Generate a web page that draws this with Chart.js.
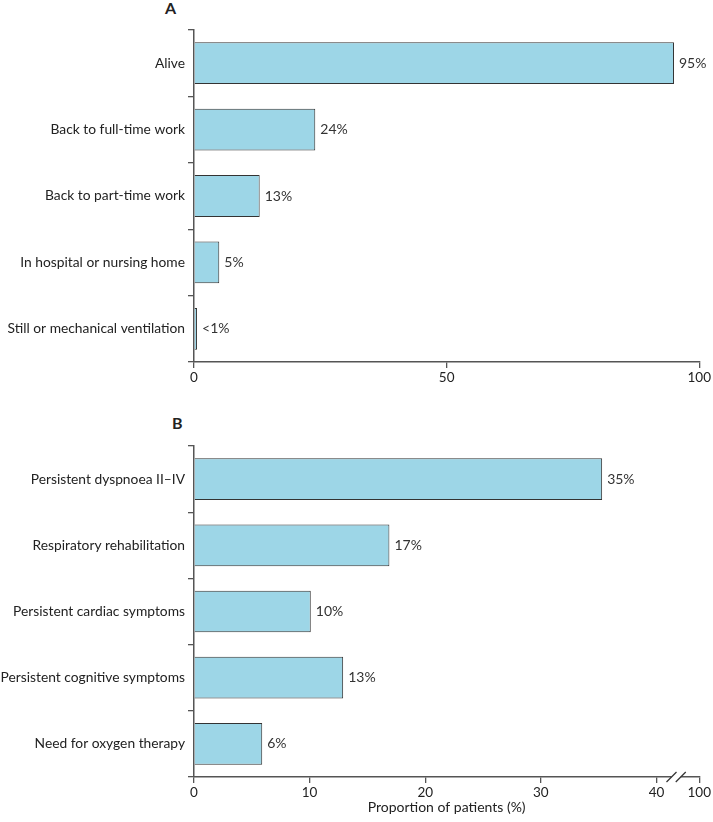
<!DOCTYPE html>
<html>
<head>
<meta charset="utf-8">
<script src="https://cdn.jsdelivr.net/npm/chart.js@4/dist/chart.umd.min.js"></script>
<style>
  body { margin: 0; background: #fff; font-family: Lato, sans-serif; }
  #wrap { position: relative; width: 713px; height: 822px; }
  .box { position: absolute; left: 0; width: 713px; }
  .panel { position: absolute; font: bold 16px Lato, sans-serif; color: #222; line-height: 16px; }
</style>
</head>
<body>
<div id="wrap">
  <div class="panel" style="left:165px; top:0px;">A</div>
  <div class="box" style="top:0; height:395px;"><canvas id="chartA"></canvas></div>
  <div class="panel" style="left:172px; top:415px;">B</div>
  <div class="box" style="top:395px; height:427px;"><canvas id="chartB"></canvas></div>
</div>
<script>
// panel A - outcomes
var catsA = ["Alive", "Back to full-time work", "Back to part-time work", "In hospital or nursing home", "Still or mechanical ventilation"];
var valsA = [95, 24, 13, 5, 0.6];
var textA = ["95%", "24%", "13%", "5%", "<1%"];

// panel B - symptoms
var catsB = ["Persistent dyspnoea II\u2013IV", "Respiratory rehabilitation", "Persistent cardiac symptoms", "Persistent cognitive symptoms", "Need for oxygen therapy"];
var valsB = [35.3, 16.9, 10.1, 12.9, 5.9];
var textB = ["35%", "17%", "10%", "13%", "6%"];
var ticksB = [0, 10, 20, 30, 40];
var breakEnd = 43.7; // axis end, labelled 100

var axisCol = '#555';
var barFill = '#9dd6e7';

var valueLabels = {
    id: 'valueLabels',
    afterDatasetsDraw: function (chart, args, opts) {
        var ctx = chart.ctx;
        var meta = chart.getDatasetMeta(0);
        ctx.save();
        ctx.font = '14px Lato';
        ctx.fillStyle = '#333';
        ctx.textBaseline = 'middle';
        meta.data.forEach(function (bar, i) {
            ctx.fillText(opts.labels[i], bar.x + 5, bar.y);
        });
        ctx.restore();
    }
};

var axisBreak = {
    id: 'axisBreak',
    afterDraw: function (chart, args, opts) {
        if (!opts.at) return;
        var ctx = chart.ctx;
        var sc = chart.scales.x;
        var y = sc.top;
        var x1 = sc.getPixelForValue(opts.at[0]);
        var x2 = sc.getPixelForValue(opts.at[1]);
        ctx.save();
        ctx.fillStyle = '#fff';
        ctx.fillRect(x1, y - 3, x2 - x1, 6);
        ctx.strokeStyle = '#333';
        ctx.lineWidth = 1.2;
        [x1, x2].forEach(function (x) {
            ctx.beginPath();
            ctx.moveTo(x - 5, y + 5);
            ctx.lineTo(x + 5, y - 5);
            ctx.stroke();
        });
        ctx.restore();
    }
};

function makeChart(id, cats, vals, labels, xOpts, padTop, xHeight, xTitle, breakAt) {
    return new Chart(document.getElementById(id), {
        type: 'bar',
        data: {
            labels: cats,
            datasets: [{
                data: vals,
                backgroundColor: barFill,
                borderColor: '#333',
                borderWidth: 1,
                barPercentage: 0.63,
                categoryPercentage: 1
            }]
        },
        plugins: [valueLabels, axisBreak],
        options: {
            indexAxis: 'y',
            responsive: true,
            maintainAspectRatio: false,
            animation: false,
            layout: { padding: { top: padTop, right: 11, left: 0, bottom: 0 } },
            plugins: {
                legend: { display: false },
                tooltip: { enabled: false },
                valueLabels: { labels: labels },
                axisBreak: { at: breakAt }
            },
            scales: {
                y: {
                    afterFit: function (s) { s.width = 194; },
                    grid: { offset: true, drawOnChartArea: false, tickLength: 6, color: axisCol, lineWidth: 1.3 },
                    border: { color: axisCol, width: 1.5 },
                    ticks: { color: '#222', font: { family: 'Lato', size: 13.8 }, padding: 3 }
                },
                x: Object.assign({
                    afterFit: function (s) { s.height = xHeight; },
                    grid: { drawOnChartArea: false, tickLength: 6, color: axisCol, lineWidth: 1.3 },
                    border: { color: axisCol, width: 1.5 },
                    title: xTitle ? { display: true, text: xTitle, color: '#222', font: { family: 'Lato', size: 14 }, padding: { top: 0, bottom: 6 } } : { display: false }
                }, xOpts)
            }
        }
    });
}

makeChart('chartA', catsA, valsA, textA, {
    min: 0, max: 100,
    ticks: { stepSize: 50, color: '#222', font: { family: 'Lato', size: 13.5 }, padding: 2, maxRotation: 0 }
}, 30, 33, null, null);

makeChart('chartB', catsB, valsB, textB, {
    min: 0, max: breakEnd,
    afterBuildTicks: function (s) {
        s.ticks = ticksB.concat([breakEnd]).map(function (v) { return { value: v }; });
    },
    ticks: {
        color: '#222', font: { family: 'Lato', size: 13.5 }, padding: 2, maxRotation: 0,
        callback: function (v) { return v === breakEnd ? '100' : v; }
    }
}, 51, 45, 'Proportion of patients (%)', [41.3, 42.1]);
</script>
</body>
</html>
